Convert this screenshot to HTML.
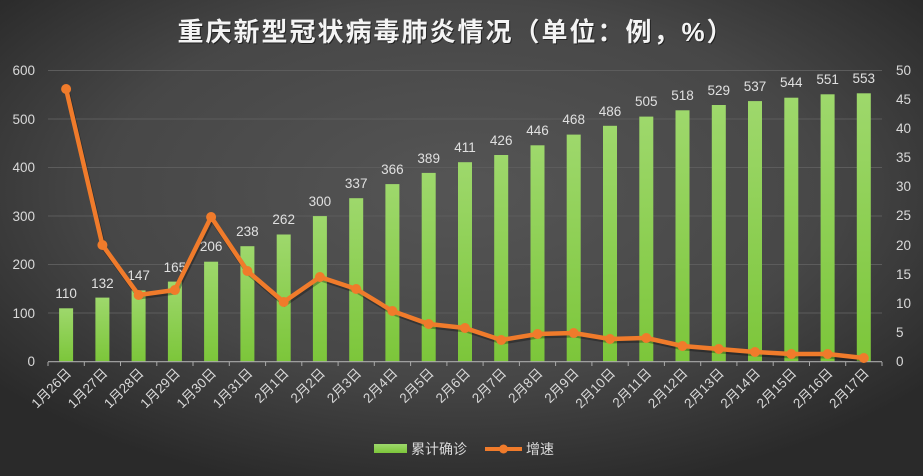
<!DOCTYPE html>
<html><head><meta charset="utf-8"><style>
html,body{margin:0;padding:0;}
body{width:923px;height:476px;overflow:hidden;background:#333;}
svg{display:block;font-family:"Liberation Sans","Noto Sans CJK SC",sans-serif;}
</style></head><body>
<svg width="923" height="476" viewBox="0 0 923 476" xmlns="http://www.w3.org/2000/svg">
<defs>
<radialGradient id="bg" cx="0.5" cy="0.4" r="0.65">
<stop offset="0" stop-color="#555"/><stop offset="0.6" stop-color="#474747"/><stop offset="1" stop-color="#2a2a2a"/>
</radialGradient>
<linearGradient id="bar" x1="0" y1="0" x2="0" y2="1">
<stop offset="0" stop-color="#9ed86c"/><stop offset="1" stop-color="#7cc63a"/>
</linearGradient>
</defs>
<rect width="923" height="476" fill="url(#bg)"/>
<text x="457" y="42" text-anchor="middle" font-size="26" font-weight="bold" fill="#000" opacity="0.5" letter-spacing="2">重庆新型冠状病毒肺炎情况（单位：例，%）</text>
<text x="456" y="41" text-anchor="middle" font-size="26" font-weight="bold" fill="#f4f4f4" letter-spacing="2">重庆新型冠状病毒肺炎情况（单位：例，%）</text>
<g stroke="#5c5c5c" stroke-width="1">
<line x1="48" y1="70.5" x2="882" y2="70.5"/><line x1="48" y1="119" x2="882" y2="119"/>
<line x1="48" y1="167.5" x2="882" y2="167.5"/><line x1="48" y1="216" x2="882" y2="216"/>
<line x1="48" y1="264.5" x2="882" y2="264.5"/><line x1="48" y1="313" x2="882" y2="313"/>
</g>
<g font-size="13.5" fill="#d9d9d9" text-anchor="end">
<text x="35" y="75">600</text><text x="35" y="124">500</text><text x="35" y="172">400</text>
<text x="35" y="221">300</text><text x="35" y="269">200</text><text x="35" y="318">100</text><text x="35" y="366">0</text>
</g>
<g font-size="13.5" fill="#d9d9d9" text-anchor="start">
<text x="896" y="75">50</text><text x="896" y="104">45</text><text x="896" y="133">40</text>
<text x="896" y="162">35</text><text x="896" y="191">30</text><text x="896" y="220">25</text>
<text x="896" y="250">20</text><text x="896" y="279">15</text><text x="896" y="308">10</text>
<text x="896" y="337">5</text><text x="896" y="366">0</text>
</g>
<g fill="url(#bar)">
<rect x="59.1" y="308.3" width="14" height="53.4"/>
<rect x="95.4" y="297.6" width="14" height="64.1"/>
<rect x="131.6" y="290.4" width="14" height="71.3"/>
<rect x="167.9" y="281.6" width="14" height="80.1"/>
<rect x="204.1" y="261.7" width="14" height="100"/>
<rect x="240.4" y="246.2" width="14" height="115.5"/>
<rect x="276.7" y="234.5" width="14" height="127.2"/>
<rect x="312.9" y="216.1" width="14" height="145.6"/>
<rect x="349.2" y="198.2" width="14" height="163.5"/>
<rect x="385.4" y="184.1" width="14" height="177.6"/>
<rect x="421.7" y="172.9" width="14" height="188.8"/>
<rect x="458" y="162.2" width="14" height="199.5"/>
<rect x="494.2" y="155" width="14" height="206.7"/>
<rect x="530.5" y="145.3" width="14" height="216.4"/>
<rect x="566.7" y="134.6" width="14" height="227.1"/>
<rect x="603" y="125.8" width="14" height="235.9"/>
<rect x="639.3" y="116.6" width="14" height="245.1"/>
<rect x="675.5" y="110.3" width="14" height="251.4"/>
<rect x="711.8" y="105" width="14" height="256.7"/>
<rect x="748" y="101.1" width="14" height="260.6"/>
<rect x="784.3" y="97.7" width="14" height="264"/>
<rect x="820.6" y="94.3" width="14" height="267.4"/>
<rect x="856.8" y="93.3" width="14" height="268.4"/>
</g>
<g font-size="13.5" fill="#e0e0e0" text-anchor="middle">
<text x="66.1" y="298">110</text><text x="102.4" y="288">132</text><text x="138.6" y="280">147</text>
<text x="174.9" y="272">165</text><text x="211.1" y="251">206</text><text x="247.4" y="236">238</text>
<text x="283.7" y="224">262</text><text x="319.9" y="206">300</text><text x="356.2" y="188">337</text>
<text x="392.4" y="174">366</text><text x="428.7" y="163">389</text><text x="465" y="152">411</text>
<text x="501.2" y="145">426</text><text x="537.5" y="135">446</text><text x="573.7" y="124">468</text>
<text x="610" y="116">486</text><text x="646.3" y="106">505</text><text x="682.5" y="100">518</text>
<text x="718.8" y="95">529</text><text x="755" y="91">537</text><text x="791.3" y="87">544</text>
<text x="827.6" y="84">551</text><text x="863.8" y="83">553</text>
</g>
<line x1="48" y1="361.7" x2="882" y2="361.7" stroke="#aaa" stroke-width="1.2"/>
<g stroke="#aaa" stroke-width="1">
<line x1="48" y1="362" x2="48" y2="366"/><line x1="84.3" y1="362" x2="84.3" y2="366"/><line x1="120.5" y1="362" x2="120.5" y2="366"/><line x1="156.8" y1="362" x2="156.8" y2="366"/><line x1="193" y1="362" x2="193" y2="366"/><line x1="229.3" y1="362" x2="229.3" y2="366"/><line x1="265.6" y1="362" x2="265.6" y2="366"/><line x1="301.8" y1="362" x2="301.8" y2="366"/><line x1="338.1" y1="362" x2="338.1" y2="366"/><line x1="374.3" y1="362" x2="374.3" y2="366"/><line x1="410.6" y1="362" x2="410.6" y2="366"/><line x1="446.9" y1="362" x2="446.9" y2="366"/><line x1="483.1" y1="362" x2="483.1" y2="366"/><line x1="519.4" y1="362" x2="519.4" y2="366"/><line x1="555.6" y1="362" x2="555.6" y2="366"/><line x1="591.9" y1="362" x2="591.9" y2="366"/><line x1="628.2" y1="362" x2="628.2" y2="366"/><line x1="664.4" y1="362" x2="664.4" y2="366"/><line x1="700.7" y1="362" x2="700.7" y2="366"/><line x1="736.9" y1="362" x2="736.9" y2="366"/><line x1="773.2" y1="362" x2="773.2" y2="366"/><line x1="809.5" y1="362" x2="809.5" y2="366"/><line x1="845.7" y1="362" x2="845.7" y2="366"/><line x1="882" y1="362" x2="882" y2="366"/>
</g>
<g stroke="#000" stroke-opacity="0.3" stroke-width="5" fill="none" transform="translate(1,2)">
<polyline points="66.1,89 102.4,245 138.6,295 174.9,290 211.1,217 247.4,271 283.7,302 319.9,277 356.2,289 392.4,311 428.7,324 465,328 501.2,340 537.5,334 573.7,333 610,339 646.3,338 682.5,346 718.8,349 755,352 791.3,354 827.6,354 863.8,358"/>
</g>
<polyline fill="none" stroke="#f07b2b" stroke-width="4.5" stroke-linejoin="round" points="66.1,89 102.4,245 138.6,295 174.9,290 211.1,217 247.4,271 283.7,302 319.9,277 356.2,289 392.4,311 428.7,324 465,328 501.2,340 537.5,334 573.7,333 610,339 646.3,338 682.5,346 718.8,349 755,352 791.3,354 827.6,354 863.8,358"/>
<g fill="#f07b2b">
<circle cx="66.1" cy="89" r="5"/><circle cx="102.4" cy="245" r="5"/><circle cx="138.6" cy="295" r="5"/><circle cx="174.9" cy="290" r="5"/><circle cx="211.1" cy="217" r="5"/><circle cx="247.4" cy="271" r="5"/><circle cx="283.7" cy="302" r="5"/><circle cx="319.9" cy="277" r="5"/><circle cx="356.2" cy="289" r="5"/><circle cx="392.4" cy="311" r="5"/><circle cx="428.7" cy="324" r="5"/><circle cx="465" cy="328" r="5"/><circle cx="501.2" cy="340" r="5"/><circle cx="537.5" cy="334" r="5"/><circle cx="573.7" cy="333" r="5"/><circle cx="610" cy="339" r="5"/><circle cx="646.3" cy="338" r="5"/><circle cx="682.5" cy="346" r="5"/><circle cx="718.8" cy="349" r="5"/><circle cx="755" cy="352" r="5"/><circle cx="791.3" cy="354" r="5"/><circle cx="827.6" cy="354" r="5"/><circle cx="863.8" cy="358" r="5"/>
</g>
<g font-size="13.5" fill="#d9d9d9" text-anchor="end">
<text transform="translate(72,374) rotate(-45)">1月26日</text>
<text transform="translate(108.4,374) rotate(-45)">1月27日</text>
<text transform="translate(144.6,374) rotate(-45)">1月28日</text>
<text transform="translate(180.9,374) rotate(-45)">1月29日</text>
<text transform="translate(217.1,374) rotate(-45)">1月30日</text>
<text transform="translate(253.4,374) rotate(-45)">1月31日</text>
<text transform="translate(289.7,374) rotate(-45)">2月1日</text>
<text transform="translate(325.9,374) rotate(-45)">2月2日</text>
<text transform="translate(362.2,374) rotate(-45)">2月3日</text>
<text transform="translate(398.4,374) rotate(-45)">2月4日</text>
<text transform="translate(434.7,374) rotate(-45)">2月5日</text>
<text transform="translate(471,374) rotate(-45)">2月6日</text>
<text transform="translate(507.2,374) rotate(-45)">2月7日</text>
<text transform="translate(543.5,374) rotate(-45)">2月8日</text>
<text transform="translate(579.7,374) rotate(-45)">2月9日</text>
<text transform="translate(616,374) rotate(-45)">2月10日</text>
<text transform="translate(652.3,374) rotate(-45)">2月11日</text>
<text transform="translate(688.5,374) rotate(-45)">2月12日</text>
<text transform="translate(724.8,374) rotate(-45)">2月13日</text>
<text transform="translate(761,374) rotate(-45)">2月14日</text>
<text transform="translate(797.3,374) rotate(-45)">2月15日</text>
<text transform="translate(833.6,374) rotate(-45)">2月16日</text>
<text transform="translate(869.8,374) rotate(-45)">2月17日</text>
</g>
<rect x="374" y="444" width="33" height="9" fill="url(#bar)"/>
<text x="411" y="454" font-size="14" fill="#d9d9d9">累计确诊</text>
<line x1="485" y1="449" x2="522" y2="449" stroke="#f07b2b" stroke-width="4"/>
<circle cx="503.5" cy="449" r="4.5" fill="#f07b2b"/>
<text x="526" y="454" font-size="14" fill="#d9d9d9">增速</text>
</svg>
</body></html>
